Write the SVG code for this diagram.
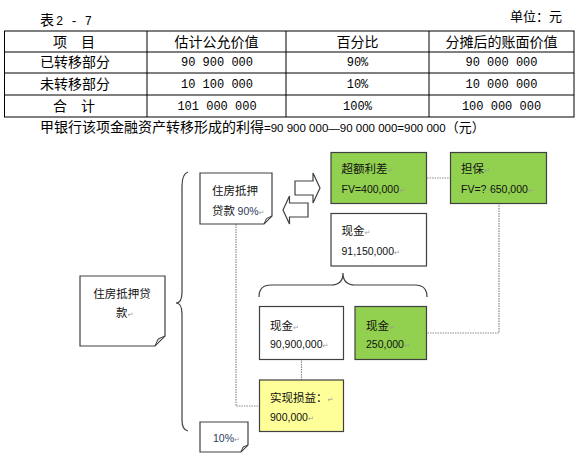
<svg xmlns="http://www.w3.org/2000/svg" width="577" height="458" viewBox="0 0 577 458">
<style>
.t14{font-family:"Noto Sans CJK SC","Noto Sans",sans-serif;font-size:14px;fill:#000}
.t13{font-family:"Noto Sans CJK SC","Noto Sans",sans-serif;font-size:13px;fill:#000}
.m{font-family:"Liberation Mono","DejaVu Sans Mono",monospace;font-size:12px;fill:#000}
.s12{font-family:"Liberation Sans",Arial,sans-serif;font-size:11.5px;fill:#000}
.c{text-anchor:middle}
.cn{font-family:"Noto Sans CJK SC","Noto Sans",sans-serif;font-size:11.5px;fill:#111}
.num{font-family:"Liberation Sans",Arial,sans-serif;font-size:10.5px;fill:#111}
.pct{font-family:"Liberation Sans",Arial,sans-serif;font-size:10.5px;fill:#2a3a5a}
.pm{font-family:"DejaVu Sans",sans-serif;font-size:7px;fill:#9a9a9a}
.box{stroke:#404040;stroke-width:1.2}
.w{fill:#fff}
.g{fill:#92D050}
.y{fill:#FFFF99}
.fold{fill:#d9d9d9;stroke:#404040;stroke-width:1}
.tl{stroke:#000;stroke-width:1;fill:none}
.dot{fill:none;stroke:#8a8a8a;stroke-width:1.2;stroke-dasharray:1.5 1}
.br{fill:none;stroke:#404040;stroke-width:1.2}
</style>
<rect width="577" height="458" fill="#fff"/>

<g id="table">
<text class="t14" x="40" y="25">表<tspan class="m" dx="2">2 - 7</tspan></text>
<text class="t13" x="562" y="21" text-anchor="end">单位：元</text>
<rect class="tl" x="4.5" y="31" width="569.5" height="86"/>
<path class="tl" d="M4.5 52H574M4.5 73H574M4.5 95H574M147 31V117M286 31V117M429 31V117"/>
<text class="t14 c" x="74" y="46.5">项　目</text>
<text class="t14 c" x="216.5" y="46.5">估计公允价值</text>
<text class="t14 c" x="357.5" y="46.5">百分比</text>
<text class="t14 c" x="501.5" y="46.5">分摊后的账面价值</text>
<text class="t14 c" x="75" y="67">已转移部分</text>
<text class="t14 c" x="75" y="88.5">未转移部分</text>
<text class="t14 c" x="74" y="111">合　计</text>
<text class="m c" x="217" y="66">90 900 000</text>
<text class="m c" x="217" y="87.5">10 100 000</text>
<text class="m c" x="217" y="110">101 000 000</text>
<text class="m c" x="357.5" y="66">90%</text>
<text class="m c" x="357.5" y="87.5">10%</text>
<text class="m c" x="357.5" y="110">100%</text>
<text class="m c" x="501.5" y="66">90 000 000</text>
<text class="m c" x="501.5" y="87.5">10 000 000</text>
<text class="m c" x="501.5" y="110">100 000 000</text>
<text class="t14" x="40" y="132" font-size="13.6px">甲银行该项金融资产转移形成的利得<tspan class="s12">=90 900 000—90 000 000=900 000</tspan><tspan font-size="13px">（元）</tspan></text>
</g>

<g id="connectors">
<path class="dot" d="M427 178H451"/>
<path class="dot" d="M499 203V333H427"/>
<path class="dot" d="M236 224V406H259"/>
<path class="dot" d="M301.5 359V380"/>
<path class="br" d="M188 172Q182 174 182 186L182 292Q182 303 176 303Q182 303 182 314L182 420Q182 430 188 431"/>
<path class="br" d="M259 297Q259 285 271 285L331 285Q343 285 343 273Q343 285 355 285L415 285Q427 285 427 297"/>
<path class="box w" d="M295 181H313V173L320 188L313 203V195H295Z"/>
<path class="box w" d="M308 203H289.5V196L283 210L289.5 224V217H308Z"/>
</g>

<g id="n-loan">
<path class="box w" d="M80 276H165V336L155 346H80Z"/>
<path class="fold" d="M155 346L158 339L165 336Z"/>
<text class="cn c" x="122" y="297.5">住房抵押贷</text>
<text class="cn" x="116" y="316.5">款<tspan class="pm">↵</tspan></text>
</g>

<g id="n-loan90">
<path class="box w" d="M200 173H272V216L264 224H200Z"/>
<path class="fold" d="M264 224L266.5 218.5L272 216Z"/>
<text class="cn" x="212" y="194.5">住房抵押</text>
<text class="cn" x="212" y="214.5">贷款 <tspan class="pct">90%</tspan><tspan class="pm">↵</tspan></text>
</g>

<g id="n-loan10">
<path class="box w" d="M200 422H248V445L241 452H200Z"/>
<path class="fold" d="M241 452L243 447L248 445Z"/>
<text class="pct" x="213" y="442">10%<tspan class="pm">↵</tspan></text>
</g>

<g id="n-spread">
<rect class="box g" x="331" y="152.5" width="95.5" height="51"/>
<text class="cn" x="341.5" y="173">超额利差<tspan class="pm">↵</tspan></text>
<text class="num" x="341.5" y="193">FV=400,000<tspan class="pm">↵</tspan></text>
</g>

<g id="n-guarantee">
<rect class="box g" x="450.5" y="152.5" width="96" height="51"/>
<text class="cn" x="461" y="173">担保<tspan class="pm">↵</tspan></text>
<text class="num" x="461" y="193">FV=?<tspan fill="#9a9a9a">·</tspan>650,000<tspan class="pm">↵</tspan></text>
</g>

<g id="n-cash91">
<rect class="box w" x="331" y="213.5" width="95.5" height="52.5"/>
<text class="cn" x="341.5" y="235">现金<tspan class="pm">↵</tspan></text>
<text class="num" x="341.5" y="254.5">91,150,000<tspan class="pm">↵</tspan></text>
</g>

<g id="n-cash909">
<rect class="box w" x="259.5" y="306.5" width="84" height="53"/>
<text class="cn" x="270" y="329.5">现金<tspan class="pm">↵</tspan></text>
<text class="num" x="270" y="348">90,900,000<tspan class="pm">↵</tspan></text>
</g>

<g id="n-cash25">
<rect class="box g" x="355" y="306.5" width="71.5" height="53"/>
<text class="cn" x="366" y="329.5">现金<tspan class="pm">↵</tspan></text>
<text class="num" x="366" y="348">250,000<tspan class="pm">↵</tspan></text>
</g>

<g id="n-gain">
<rect class="box y" x="259.5" y="380" width="84" height="51.5"/>
<text class="cn" x="270" y="402">实现损益：<tspan class="pm">↵</tspan></text>
<text class="num" x="270" y="420.5">900,000<tspan class="pm">↵</tspan></text>
</g>
</svg>
